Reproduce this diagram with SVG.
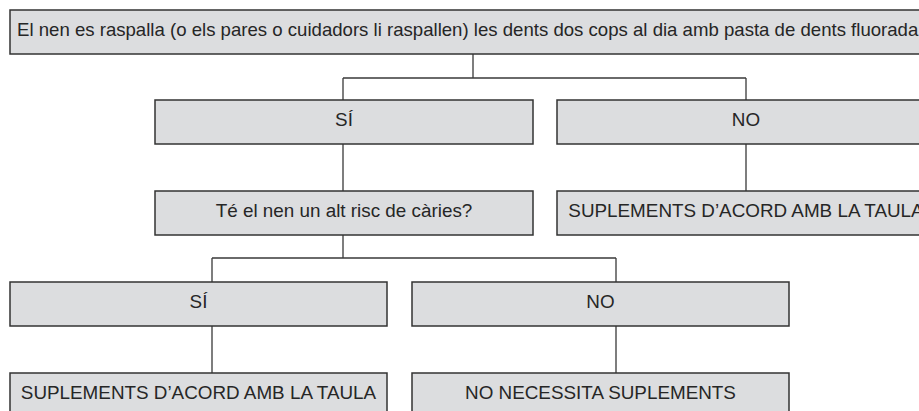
<svg xmlns="http://www.w3.org/2000/svg" width="919" height="411" viewBox="0 0 919 411">
<style>
.box{fill:#dcdddf;stroke:#333333;stroke-width:1.5}
.t{font-family:"Liberation Sans",Arial,sans-serif;font-size:18.85px;fill:#262626;text-anchor:middle}
.c{fill:none;stroke:#3a3a3a;stroke-width:1.3}
</style>
<rect width="919" height="411" fill="#ffffff"/>
<g id="connectors">
<path class="c" d="M473 54V78M343 78H746M343 78V100M746 78V100"/>
<path class="c" d="M343 144V191M746 144V191"/>
<path class="c" d="M343 235V258M212 258H616M212 258V282M616 258V282"/>
<path class="c" d="M212 326V373M616 326V373"/>
</g>
<g id="root"><rect class="box" x="10" y="10" width="926" height="44"/><text class="t" x="17" y="36" style="text-anchor:start;font-size:18.6px">El nen es raspalla (o els pares o cuidadors li raspallen) les dents dos cops al dia amb pasta de dents fluorada</text></g>
<g id="si1"><rect class="box" x="155" y="100" width="378" height="44"/><text class="t" x="344" y="126">SÍ</text></g>
<g id="no1"><rect class="box" x="557" y="100" width="378" height="44"/><text class="t" x="746" y="126">NO</text></g>
<g id="risc"><rect class="box" x="155" y="191" width="378" height="44"/><text class="t" x="344" y="217">Té el nen un alt risc de càries?</text></g>
<g id="supl1"><rect class="box" x="557" y="191" width="378" height="44"/><text class="t" x="746" y="217">SUPLEMENTS D’ACORD AMB LA TAULA</text></g>
<g id="si2"><rect class="box" x="10" y="282" width="377" height="44"/><text class="t" x="198.5" y="308">SÍ</text></g>
<g id="no2"><rect class="box" x="412" y="282" width="377" height="44"/><text class="t" x="600.5" y="308">NO</text></g>
<g id="supl2"><rect class="box" x="10" y="373" width="377" height="44"/><text class="t" x="198.5" y="399">SUPLEMENTS D’ACORD AMB LA TAULA</text></g>
<g id="nonec"><rect class="box" x="412" y="373" width="377" height="44"/><text class="t" x="600.5" y="399">NO NECESSITA SUPLEMENTS</text></g>
</svg>
